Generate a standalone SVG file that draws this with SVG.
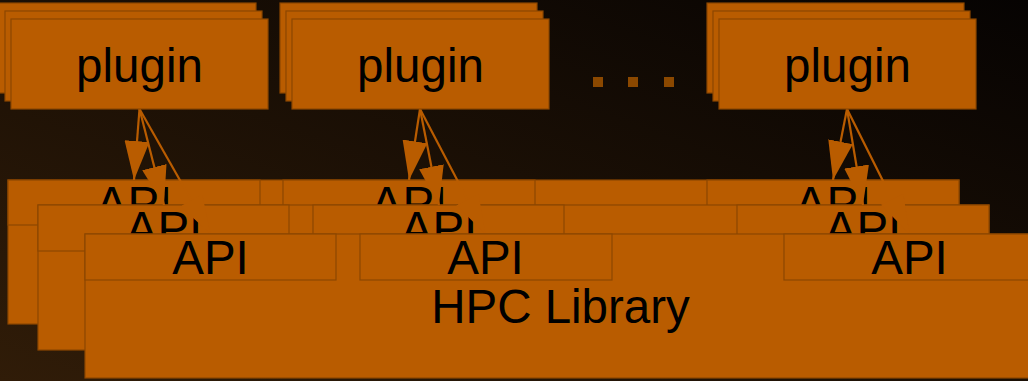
<svg xmlns="http://www.w3.org/2000/svg" width="1028" height="381" viewBox="0 0 1028 381">
  <defs>
    <linearGradient id="bg" x1="0" y1="1" x2="1" y2="0">
      <stop offset="0" stop-color="#301c08"/>
      <stop offset="1" stop-color="#060302"/>
    </linearGradient>
    <marker id="ah" viewBox="0 0 39 25" markerWidth="39" markerHeight="25" refX="39" refY="12.5" orient="auto" markerUnits="userSpaceOnUse">
      <path d="M0,0 L39,12.5 L0,25 z" fill="#b95c00"/>
    </marker>
    <style>
      .box { fill: #b95c00; stroke: #8c4700; stroke-width: 1.2; }
      .lbl { font-family: "Liberation Sans", Arial, sans-serif; font-size: 47.5px; fill: #000; text-anchor: middle; }
      .conn line { stroke: #b95c00; stroke-width: 2.2; marker-end: url(#ah); }
      .dot { fill: #8b4800; }
    </style>
  </defs>
  <rect x="0" y="0" width="1028" height="381" fill="url(#bg)"/>

  <g id="layer-back">
    <rect class="box" x="8" y="180" width="951" height="144"/>
    <rect class="box" x="8" y="180" width="252" height="45"/>
    <rect class="box" x="283" y="180" width="252" height="45"/>
    <rect class="box" x="707" y="180" width="252" height="45"/>
    <text class="lbl" x="134" y="220">API</text>
    <text class="lbl" x="409" y="220">API</text>
    <text class="lbl" x="833" y="220">API</text>
  </g>

  <g id="layer-middle">
    <rect class="box" x="38" y="205" width="951" height="145"/>
    <rect class="box" x="38" y="205" width="251" height="46"/>
    <rect class="box" x="313" y="205" width="251" height="46"/>
    <rect class="box" x="737" y="205" width="252" height="46"/>
    <text class="lbl" x="164" y="245">API</text>
    <text class="lbl" x="439" y="245">API</text>
    <text class="lbl" x="863" y="245">API</text>
  </g>

  <g id="connectors" class="conn">
    <line x1="139.5" y1="109" x2="134" y2="180"/>
    <line x1="139.5" y1="109" x2="164" y2="205"/>
    <line x1="139.5" y1="109" x2="210.5" y2="234"/>
    <line x1="420" y1="109" x2="409" y2="180"/>
    <line x1="420" y1="109" x2="439" y2="205"/>
    <line x1="420" y1="109" x2="485.5" y2="234"/>
    <line x1="847" y1="109" x2="833" y2="180"/>
    <line x1="847" y1="109" x2="863" y2="205"/>
    <line x1="847" y1="109" x2="909.5" y2="234"/>
  </g>

  <g id="layer-front">
    <rect class="box" x="85" y="234" width="951" height="144"/>
    <rect class="box" x="85" y="234" width="251" height="46"/>
    <rect class="box" x="360" y="234" width="252" height="46"/>
    <rect class="box" x="784" y="234" width="252" height="46"/>
    <text class="lbl" x="210.5" y="274">API</text>
    <text class="lbl" x="485.5" y="274">API</text>
    <text class="lbl" x="909.5" y="274">API</text>
    <text class="lbl" x="560.5" y="323">HPC Library</text>
  </g>

  <g id="plugin-1">
    <rect class="box" x="-1" y="3" width="257" height="90"/>
    <rect class="box" x="5" y="11" width="257" height="90"/>
    <rect class="box" x="11" y="19" width="257" height="90"/>
    <text class="lbl" x="139.5" y="82">plugin</text>
  </g>
  <g id="plugin-2">
    <rect class="box" x="280" y="3" width="257" height="90"/>
    <rect class="box" x="286" y="11" width="257" height="90"/>
    <rect class="box" x="292" y="19" width="257" height="90"/>
    <text class="lbl" x="420.5" y="82">plugin</text>
  </g>
  <g id="ellipsis">
    <rect class="dot" x="593" y="77" width="10" height="10"/>
    <rect class="dot" x="628" y="77" width="10" height="10"/>
    <rect class="dot" x="664" y="77" width="10" height="10"/>
  </g>
  <g id="plugin-3">
    <rect class="box" x="707" y="3" width="257" height="90"/>
    <rect class="box" x="713" y="11" width="257" height="90"/>
    <rect class="box" x="719" y="19" width="257" height="90"/>
    <text class="lbl" x="847.5" y="82">plugin</text>
  </g>
</svg>
